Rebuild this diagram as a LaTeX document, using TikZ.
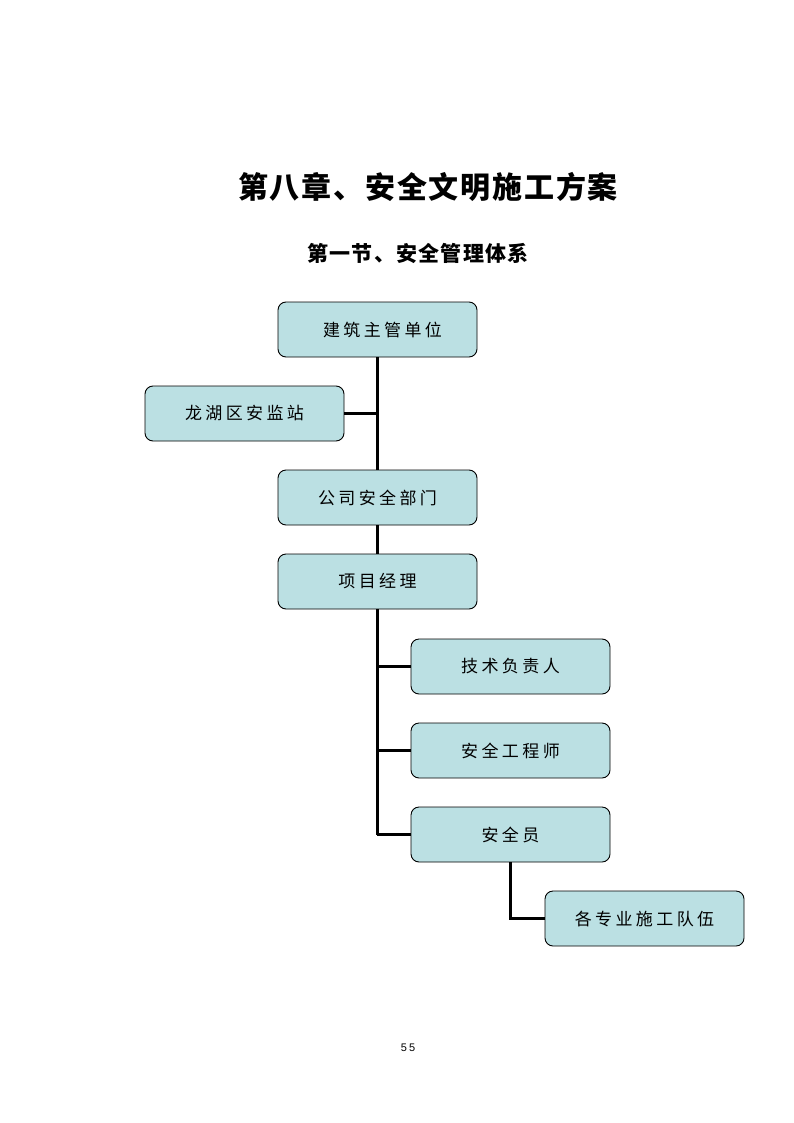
\documentclass[tikz,border=0pt]{standalone}
\usepackage{fontspec}
\newfontfamily\cjk[LetterSpace=20]{Noto Sans CJK SC}
\newfontfamily\cjktitle[LetterSpace=6]{Noto Sans CJK SC}
\newfontfamily\numfont[LetterSpace=20]{Liberation Sans}
\definecolor{boxfill}{HTML}{BBE0E3}
\begin{document}
\begin{tikzpicture}[x=1pt,y=-1pt,
  orgbox/.style={draw=black,line width=0.9pt,fill=boxfill,rounded corners=8pt,
    minimum width=199pt,minimum height=55pt,inner sep=0pt,
    font=\cjk\fontsize{17pt}{20pt}\selectfont},
  conn/.style={line width=3pt}]
\useasboundingbox (0,0) rectangle (794,1123);
\node[font=\cjktitle\bfseries\fontsize{30pt}{35pt}\selectfont] (title) at (428,187) {第八章、安全文明施工方案};
\node[font=\cjktitle\bfseries\fontsize{21pt}{25pt}\selectfont] (sub) at (418,253) {第一节、安全管理体系};
\node[orgbox] (a) at (377.5,329.5) {\hspace*{10pt}建筑主管单位};
\node[orgbox] (b) at (244.5,413.5) {龙湖区安监站};
\node[orgbox] (c) at (377.5,497.5) {公司安全部门};
\node[orgbox] (d) at (377.5,581.5) {项目经理};
\node[orgbox] (e) at (510.5,666.5) {技术负责人};
\node[orgbox] (f) at (510.5,750.5) {安全工程师};
\node[orgbox] (g) at (510.5,834.5) {安全员};
\node[orgbox] (h) at (644.5,918.5) {各专业施工队伍};
\node[font=\numfont\fontsize{11pt}{13pt}\selectfont] (pg) at (408,1048) {55};
\coordinate (j1) at (377,413.5);
\draw[conn] (a.south -| j1) -- (c.north -| j1);
\draw[conn] (b.east) -- (j1);
\draw[conn] (c.south -| j1) -- (d.north -| j1);
\coordinate (j2) at (377,834.5);
\draw[conn] (d.south -| j2) -- (j2);
\draw[conn] (e.west -| j2) -- (e.west);
\draw[conn] (f.west -| j2) -- (f.west);
\draw[conn] (j2) -- (g.west);
\coordinate (j3) at (510.5,918.5);
\draw[conn] (g.south) -- (j3) -- (h.west);
\end{tikzpicture}
\end{document}
